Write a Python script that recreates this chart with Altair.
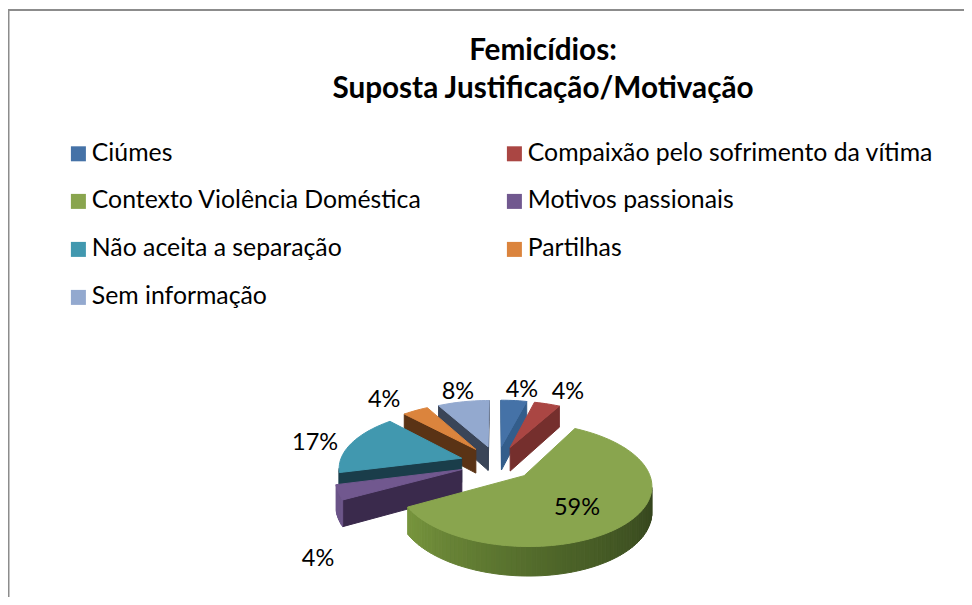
import math
import altair as alt

CATEGORIES = ["Ciúmes", "Compaixão pelo sofrimento da vítima", "Contexto Violência Doméstica",
              "Motivos passionais", "Não aceita a separação", "Partilhas", "Sem informação"]
VALUES = [4, 4, 59, 4, 17, 4, 8]
TOP_COLORS = ["#4572a7", "#aa4643", "#89a54e", "#71588f", "#4198af", "#db843d", "#93a9cf"]
CUT_COLORS = ["#335d8b", "#752f2d", "#4a6127", "#3a2a4c", "#1a3d4a", "#5a3315", "#3a4558"]
RIM_COLORS = ["#335d8b", "#752f2d", "#4a6127", "#6b5488", "#1a3d4a", "#5a3315", "#3a4558"]
LABELS = ["4%", "4%", "59%", "4%", "17%", "4%", "8%"]
LABEL_RADIUS = [1.558, 1.634, 0.886, 1.747, 1.544, 1.661, 1.535]
LABEL_ANGLE = [8.75, 24.2, 140.4, 220.7, 284.2, 321.2, 346.1]
PAINT_ORDER = [0, 1, 6, 5, 4, 3, 2]
LEGEND_ORDER = [0, 2, 4, 6, 1, 3, 5]

PAGE = 8
CX, CY = 497 - PAGE, 463 - PAGE
RX, RY = 122.0, 57.0
LABEL_RX, LABEL_RY = 128.0, 58.4
PERSP = 0.14
EXPLODE = 0.305
DEPTH = 24.5
W, H = 956, 589


def project(x, y, drop=0.0, rx=RX, ry=RY):
    s = 1 / (1 - PERSP * y)
    return [CX + rx * x * s, CY + ry * y * s + drop * s]


def polar(r, deg, ox=0.0, oy=0.0):
    a = math.radians(deg)
    return ox + r * math.sin(a), oy - r * math.cos(a)


def mix(c1, c2, t):
    a = [int(c1[i:i + 2], 16) for i in (1, 3, 5)]
    b = [int(c2[i:i + 2], 16) for i in (1, 3, 5)]
    return "#%02x%02x%02x" % tuple(round(p + (q - p) * t) for p, q in zip(a, b))


def green_shade(deg):
    t = max(0.0, min(1.0, (deg - 90) / 151.2))
    return mix("#2f3d1b", "#4c6328", t * 2) if t < 0.5 else mix("#4c6328", "#78963e", t * 2 - 1)


def poly(points, key):
    ring = [list(p) for p in points] + [list(points[0])]
    return {"type": "Feature", "geometry": {"type": "Polygon", "coordinates": [ring]},
            "properties": {"key": key}}


def faces_down(p, q, inside):
    ex, ey = q[0] - p[0], q[1] - p[1]
    nx, ny = -ey, ex
    mx, my = (p[0] + q[0]) / 2, (p[1] + q[1]) / 2
    if nx * (inside[0] - mx) + ny * (inside[1] - my) > 0:
        ny = -ny
    return ny > 0


total = sum(VALUES)
starts, acc = [], 0
for v in VALUES:
    starts.append(acc / total * 360)
    acc += v

features = []
for i in PAINT_ORDER:
    a0 = starts[i]
    a1 = a0 + VALUES[i] / total * 360
    mid = (a0 + a1) / 2
    ox, oy = polar(EXPLODE, mid)
    n = max(2, int((a1 - a0) / 2))
    angles = [a0 + (a1 - a0) * k / n for k in range(n + 1)]
    world = [polar(1, a, ox, oy) for a in angles]
    top = [project(ox, oy)] + [project(x, y) for x, y in world]
    inner = project(*polar(0.5, mid, ox, oy))
    for (wx, wy) in (world[0], world[-1]):
        p, q = project(ox, oy), project(wx, wy)
        if faces_down(p, q, inner):
            features.append(poly([p, q, project(wx, wy, DEPTH), project(ox, oy, DEPTH)], CUT_COLORS[i]))
    for k in range(n):
        p, q = project(*world[k]), project(*world[k + 1])
        if faces_down(p, q, inner):
            c = green_shade((angles[k] + angles[k + 1]) / 2) if i == 2 else RIM_COLORS[i]
            features.append(poly([p, q, project(*world[k + 1], DEPTH), project(*world[k], DEPTH)], c))
    features.append(poly(top, CATEGORIES[i]))

keys, colors = list(CATEGORIES), list(TOP_COLORS)
for f in features:
    k = f["properties"]["key"]
    if k not in keys:
        keys.append(k)
        colors.append(k)

scale = alt.Scale(domain=keys, range=colors)

pie = alt.Chart(alt.Data(values=features)).mark_geoshape(strokeWidth=1).encode(
    color=alt.Color("properties.key:N", scale=scale, legend=alt.Legend(
        values=[CATEGORIES[j] for j in LEGEND_ORDER], title=None, orient="none",
        legendX=58, legendY=133, columns=2,
        symbolType="square", symbolSize=225, symbolStrokeWidth=0, symbolOpacity=1,
        labelFont="Lato", labelFontSize=24.8, labelColor="#000000", labelLimit=600,
        columnPadding=80, rowPadding=22, labelOffset=1, symbolOffset=0)),
    stroke=alt.Stroke("properties.key:N", scale=scale, legend=None),
).project(type="identity", scale=1, translate=[0, 0])

label_rows = []
for lab, r, a in zip(LABELS, LABEL_RADIUS, LABEL_ANGLE):
    px, py = project(*polar(r, a), rx=LABEL_RX, ry=LABEL_RY)
    label_rows.append({"label": lab, "px": px, "py": py + 1})

labels = alt.Chart(alt.Data(values=label_rows)).mark_text(
    font="Lato", fontSize=23.5, color="#000000", align="center", baseline="middle"
).encode(
    x=alt.X("px:Q", scale=None, axis=None),
    y=alt.Y("py:Q", scale=None, axis=None),
    text="label:N",
)

frame_left = alt.Chart(alt.Data(values=[{}])).mark_rule(color="#8c8c8c", strokeWidth=3).encode(
    x=alt.value(0), y=alt.value(2), y2=alt.value(H))
frame_top = alt.Chart(alt.Data(values=[{}])).mark_rule(color="#8c8c8c", strokeWidth=2).encode(
    y=alt.value(2), x=alt.value(0), x2=alt.value(W))

chart = alt.layer(frame_left, frame_top, pie, labels).properties(
    width=W, height=H, padding=0, autosize=alt.AutoSizeParams(type="none"),
    title=alt.TitleParams(text=["Femicídios:", "Suposta Justificação/Motivação"],
                          font="Lato", fontSize=29.7, fontWeight="bold", color="#000000",
                          anchor="middle", lineHeight=38, dx=57, dy=101, baseline="top"),
).configure_view(stroke=None)

chart.save("out.html", embed_options={"renderer": "svg", "actions": False})
